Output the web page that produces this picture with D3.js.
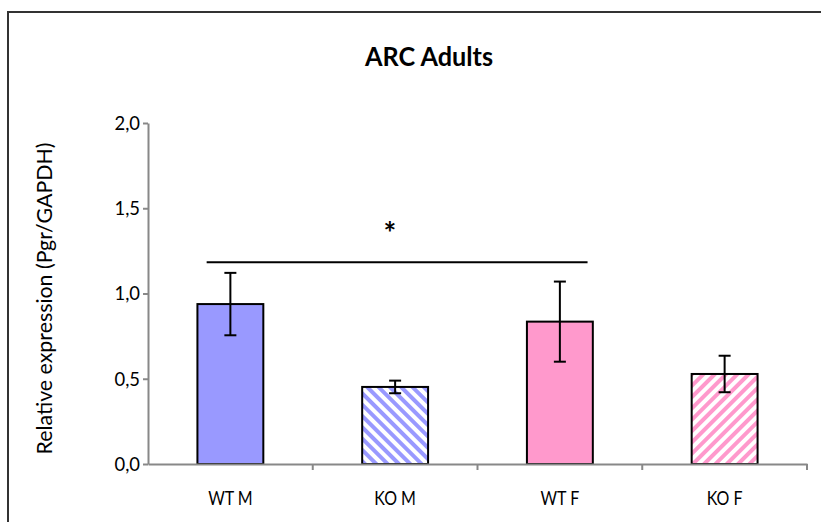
<!DOCTYPE html>
<html><head><meta charset="utf-8">
<script src="https://cdn.jsdelivr.net/npm/d3@7"></script>
<style>body{margin:0;background:#fff}svg{display:block}</style>
</head><body>
<svg id="c" width="821" height="522"></svg>
<script>
const categories = ["WT M", "KO M", "WT F", "KO F"];
const means = [0.938, 0.452, 0.835, 0.528];
const errors = [0.183, 0.037, 0.235, 0.107];
const fills = ["#9999ff", "url(#hatchBlue)", "#ff99cc", "url(#hatchPink)"];
const yTicks = [0, 0.5, 1.0, 1.5, 2.0];
const sigLine = {y: 1.183, label: "*"};

const svg = d3.select("#c");
const font = "Lato, 'Open Sans', sans-serif";

function squeeze(sel, f) {
  sel.each(function() {
    const L = this.getComputedTextLength();
    d3.select(this).attr("textLength", L * f).attr("lengthAdjust", "spacingAndGlyphs");
  });
}

// patterns
const defs = svg.append("defs");
function hatch(id, color, angle) {
  const p = defs.append("pattern").attr("id", id).attr("patternUnits", "userSpaceOnUse")
    .attr("width", 8).attr("height", 8).attr("patternTransform", `rotate(${angle})`);
  p.append("rect").attr("width", 8).attr("height", 8).attr("fill", "#fff");
  p.append("rect").attr("width", 4).attr("height", 8).attr("fill", color);
}
hatch("hatchBlue", "#9999ff", -45);
hatch("hatchPink", "#ff99cc", 45);

// outer frame
svg.append("rect").attr("x", 8).attr("y", 12).attr("width", 900).attr("height", 600)
  .attr("fill", "none").attr("stroke", "#333").attr("stroke-width", 2);

const pLeft = 148, pRight = 807, pTop = 123, pBottom = 464;
const x = d3.scaleBand().domain(categories).range([pLeft, pRight]).paddingInner(0.6).paddingOuter(0.3);
const xb = d3.scaleBand().domain(categories).range([pLeft, pRight]);
const y = d3.scaleLinear().domain([0, 2]).range([pBottom, pTop]);

// title
svg.append("text").attr("x", 429).attr("y", 66).attr("text-anchor", "middle")
  .attr("font-family", font).attr("font-weight", "bold").attr("font-size", 26)
  .text("ARC Adults").call(squeeze, 0.97);

// bars
svg.append("g").selectAll("rect").data(categories).join("rect")
  .attr("x", d => x(d)).attr("width", x.bandwidth())
  .attr("y", (d, i) => y(means[i])).attr("height", (d, i) => y(0) - y(means[i]))
  .attr("fill", (d, i) => fills[i]).attr("stroke", "#000").attr("stroke-width", 2);

// error bars
const eg = svg.append("g").attr("stroke", "#000").attr("stroke-width", 2);
categories.forEach((c, i) => {
  const cx = x(c) + x.bandwidth() / 2;
  const y1 = y(means[i] + errors[i]), y2 = y(means[i] - errors[i]);
  eg.append("line").attr("x1", cx).attr("x2", cx).attr("y1", y1).attr("y2", y2);
  eg.append("line").attr("x1", cx - 6).attr("x2", cx + 6).attr("y1", y1).attr("y2", y1);
  eg.append("line").attr("x1", cx - 6).attr("x2", cx + 6).attr("y1", y2).attr("y2", y2);
});

// axes
const ya = svg.append("g").attr("transform", `translate(${pLeft},0)`)
  .call(d3.axisLeft(y).tickValues(yTicks).tickSize(5).tickSizeOuter(0)
    .tickFormat(d => d3.format(".1f")(d).replace(".", ",")));
ya.select(".domain").attr("stroke", "#888").attr("stroke-width", 2);
ya.selectAll(".tick line").attr("stroke", "#888").attr("stroke-width", 2);
ya.selectAll(".tick text").attr("font-family", font).attr("font-size", 20).attr("fill", "#000")
  .attr("x", -8).call(squeeze, 0.92);

const xa = svg.append("g").attr("transform", `translate(0,${pBottom})`)
  .call(d3.axisBottom(xb).tickSize(0).tickSizeOuter(0));
xa.select(".domain").attr("stroke", "#888").attr("stroke-width", 2);
xa.selectAll(".tick text").attr("font-family", font).attr("font-size", 20).attr("fill", "#000")
  .attr("dy", 0).attr("y", 41).call(squeeze, 0.8);
// category boundary ticks
svg.append("g").selectAll("line").data(categories).join("line")
  .attr("x1", d => xb(d) + xb.bandwidth()).attr("x2", d => xb(d) + xb.bandwidth())
  .attr("y1", pBottom).attr("y2", pBottom + 6).attr("stroke", "#888").attr("stroke-width", 2);

// significance
const sx1 = x(categories[0]) + x.bandwidth() * 0.14;
const sx2 = x(categories[2]) + x.bandwidth() * 0.92;
svg.append("line").attr("x1", sx1).attr("x2", sx2).attr("y1", y(sigLine.y)).attr("y2", y(sigLine.y))
  .attr("stroke", "#000").attr("stroke-width", 2);
svg.append("text").attr("x", 390).attr("y", y(sigLine.y) - 18).attr("text-anchor", "middle")
  .attr("font-family", font).attr("font-weight", "bold").attr("font-size", 30).text(sigLine.label);

// y label
svg.append("text").attr("transform", `translate(52,${(pTop + pBottom) / 2 + 5}) rotate(-90)`)
  .attr("text-anchor", "middle").attr("font-family", font).attr("font-size", 22)
  .text("Relative expression (Pgr/GAPDH)").call(squeeze, 0.97);
</script>
</body></html>
